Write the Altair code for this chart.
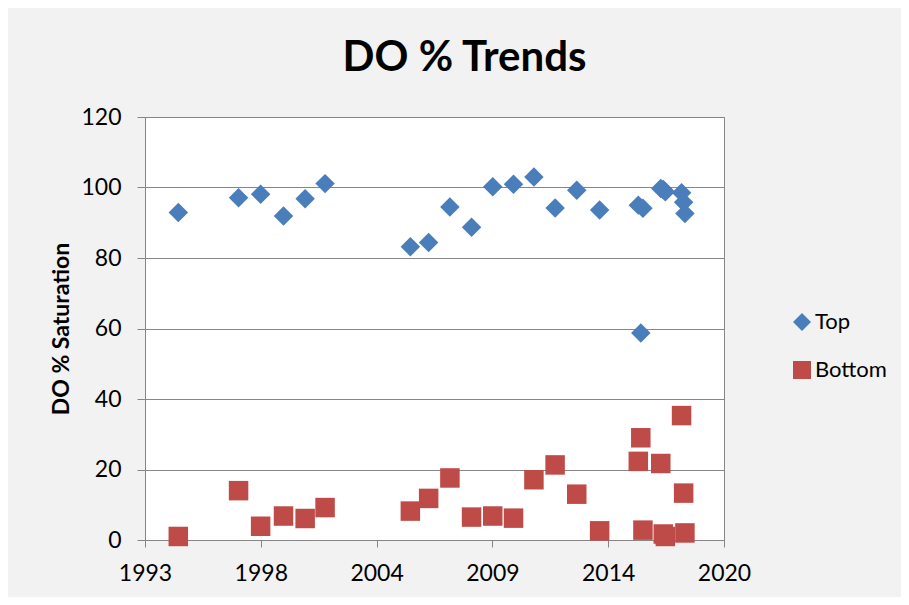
import altair as alt
import pandas as pd

# Sampling dates
sample_dates = [
    "1994-08-29", "1997-07-05", "1998-07-21", "1999-08-20", "2000-08-28",
    "2001-08-07", "2005-08-19", "2006-07-01", "2007-07-03", "2008-07-11",
    "2009-07-12", "2010-07-06", "2011-06-23", "2012-06-23", "2013-07-02",
    "2014-08-01", "2016-05-30", "2016-07-12", "2016-08-18", "2017-06-22",
    "2017-08-04", "2017-09-09", "2018-06-16", "2018-07-22", "2018-08-13",
]
top_do = [
    92.9, 97.1, 98.1, 91.9, 96.8,
    101.1, 83.2, 84.4, 94.5, 88.7,
    100.2, 100.9, 103.0, 94.2, 99.2,
    93.6, 95.0, 58.7, 94.1, 99.7,
    99.4, 98.8, 98.5, 95.8, 92.6,
]
bottom_do = [
    1.0, 14.0, 3.9, 6.8, 6.1,
    9.2, 8.2, 11.8, 17.6, 6.5,
    6.8, 6.2, 17.1, 21.3, 13.0,
    2.6, 22.3, 29.0, 2.8, 21.7,
    1.7, 1.0, 35.3, 13.3, 2.0,
]
series_names = ["Top", "Bottom"]
series_colors = ["#4A7EBB", "#BE4B48"]
series_shapes = ["diamond", "square"]

# Axis: date range and tick dates (Excel date axis), y ticks
x_domain = [(1993, 1, 31), (2020, 6, 18)]
x_tick_dates = [(1993, 1, 31), (1998, 7, 24), (2004, 1, 14),
                (2009, 7, 6), (2014, 12, 27), (2020, 6, 18)]
y_ticks = [0, 20, 40, 60, 80, 100, 120]

n = len(sample_dates)
df = pd.DataFrame({
    "date": sample_dates * 2,
    "value": top_do + bottom_do,
    "series": [series_names[0]] * n + [series_names[1]] * n,
})


def dt(t):
    return alt.DateTime(year=t[0], month=t[1], date=t[2], utc=True)


FONT = "Lato"
GRID = "#868686"

chart = (
    alt.Chart(df)
    .mark_point(filled=True, size=380, opacity=1)
    .encode(
        x=alt.X(
            "date:T",
            scale=alt.Scale(type="utc", domain=[dt(t) for t in x_domain]),
            axis=alt.Axis(
                values=[dt(t) for t in x_tick_dates],
                labelExpr="utcFormat(datum.value, '%Y')",
                title=None,
                grid=False,
                labelFont=FONT,
                labelFontSize=23,
                labelColor="#000000",
                labelPadding=15,
                tickSize=7,
                tickColor=GRID,
                domainColor=GRID,
                labelOverlap=False,
                labelFlush=False,
            ),
        ),
        y=alt.Y(
            "value:Q",
            scale=alt.Scale(domain=[0, 120], nice=False),
            axis=alt.Axis(
                values=y_ticks,
                title="DO % Saturation",
                titleFont=FONT,
                titleFontSize=23,
                titleFontWeight="bold",
                titleColor="#000000",
                titleX=-84,
                titleY=211.5,
                titleBaseline="middle",
                titleAngle=270,
                labelFont=FONT,
                labelFontSize=23,
                labelColor="#000000",
                labelPadding=16,
                tickSize=8,
                tickColor=GRID,
                domainColor=GRID,
                gridColor=GRID,
                gridWidth=1,
            ),
        ),
        color=alt.Color(
            "series:N",
            scale=alt.Scale(domain=series_names, range=series_colors),
            sort=series_names,
            legend=alt.Legend(
                orient="none",
                legendX=646,
                legendY=194,
                title=None,
                labelFont=FONT,
                labelFontSize=22,
                labelColor="#000000",
                symbolSize=324,
                rowPadding=26,
                padding=0,
                labelOffset=2,
                symbolStrokeWidth=0,
            ),
        ),
        shape=alt.Shape(
            "series:N",
            scale=alt.Scale(domain=series_names, range=series_shapes),
            sort=series_names,
        ),
    )
    .properties(
        width=579,
        height=423,
        title=alt.TitleParams(
            "DO % Trends",
            font=FONT,
            fontSize=42,
            fontWeight="bold",
            color="#000000",
            anchor="middle",
            dx=30,
            offset=-7,
            baseline="alphabetic",
        ),
        autosize=alt.AutoSizeParams(type="none"),
        padding={"left": 137, "top": 109, "right": 177, "bottom": 57},
        background="#F2F2F2",
    )
    .configure_view(fill="#FFFFFF", stroke=GRID, strokeWidth=1)
)

chart.save("out.html", embed_options={"renderer": "svg", "actions": False})
